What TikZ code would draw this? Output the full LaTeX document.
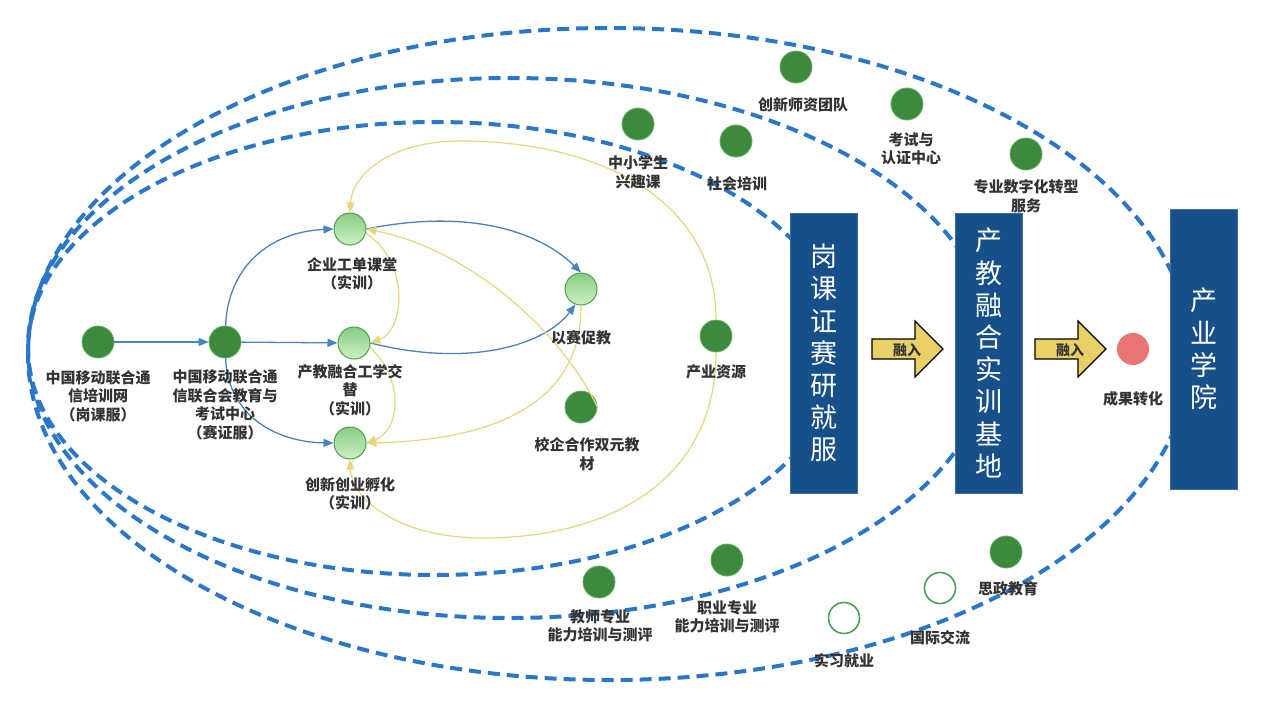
\documentclass[tikz,border=0pt]{standalone}
\usepackage{fontspec}
\newfontfamily\cjk[RawFeature=+halt]{Noto Sans CJK SC}
\usetikzlibrary{arrows.meta}
\definecolor{dgreen}{HTML}{3D8A3D}
\definecolor{dgreenrim}{HTML}{62B062}
\definecolor{lgtop}{HTML}{86CE80}
\definecolor{lgbot}{HTML}{CDEFC6}
\definecolor{lgrim}{HTML}{4E9E4E}
\definecolor{hrim}{HTML}{4E9F4E}
\definecolor{blueln}{HTML}{4683C3}
\definecolor{yelln}{HTML}{E9D47C}
\definecolor{ringblue}{HTML}{2A77C9}
\definecolor{boxblue}{HTML}{174F8A}
\definecolor{boxrim}{HTML}{3C6EA8}
\definecolor{arrowyel}{HTML}{E8D066}
\definecolor{txtgray}{HTML}{333333}
\definecolor{redc}{HTML}{E97474}
\begin{document}
\begin{tikzpicture}[x=1pt,y=-1pt,
  lbl/.style={font=\cjk\bfseries\fontsize{15}{18.5}\selectfont, text=txtgray, align=center, inner sep=0pt},
  dnode/.style={circle, fill=dgreen, draw=dgreenrim, line width=0.8pt, minimum size=32pt, inner sep=0pt},
  lnode/.style={circle, top color=lgtop, bottom color=lgbot, draw=lgrim, line width=1pt, minimum size=32pt, inner sep=0pt},
  hnode/.style={circle, draw=hrim, line width=1.6pt, fill=white, minimum size=31pt, inner sep=0pt},
  rnode/.style={circle, fill=redc, minimum size=32pt, inner sep=0pt},
  bluel/.style={draw=blueln, line width=1.3pt, -{Triangle[length=10pt,width=8pt]}},
  yell/.style={draw=yelln, line width=1.2pt, -{Triangle[length=10pt,width=8pt]}},
  ring/.style={draw=ringblue, line width=4pt, dash pattern=on 12pt off 7pt},
  bigbox/.style={fill=boxblue, draw=boxrim, line width=0.8pt, minimum width=67pt, minimum height=280pt, inner sep=0pt, text=white, align=center, font=\cjk\fontsize{27}{32.2}\selectfont},
  blockarr/.style={fill=arrowyel, draw=black, line width=1.2pt, line join=miter},
  arrtxt/.style={font=\cjk\bfseries\fontsize{14}{16}\selectfont, text=txtgray, inner sep=0pt}
]
\useasboundingbox (0,0) rectangle (1264,710);
\fill[white] (0,0) rectangle (1264,710);

% dashed rings
\draw[ring] (435,348.5) ellipse [x radius=407, y radius=226.5];
\draw[ring] (510,348) ellipse [x radius=482, y radius=270];
\draw[ring] (609,354) ellipse [x radius=581, y radius=326];

% big boxes
\node[bigbox] (b1) at (824,353) {岗\\课\\证\\赛\\研\\就\\服};
\node[bigbox] (b2) at (988.5,353) {产\\教\\融\\合\\实\\训\\基\\地};
\node[bigbox] (b3) at (1203.5,349) {产\\业\\学\\院};

% block arrows
\path[blockarr] (872,339) -- (915,339) -- (915,321) -- (943,349) -- (915,377) -- (915,359) -- (872,359) -- cycle;
\node[arrtxt] (r1) at (907,350) {融入};
\path[blockarr] (1035,339) -- (1078,339) -- (1078,321) -- (1106,349) -- (1078,377) -- (1078,359) -- (1035,359) -- cycle;
\node[arrtxt] (r2) at (1070,350) {融入};

% nodes
\node[dnode] (n1) at (98,342) {};
\node[dnode] (n2) at (225,342) {};
\node[lnode] (c1) at (350,229) {};
\node[lnode] (c2) at (354,343) {};
\node[lnode] (c3) at (350,443) {};
\node[lnode] (m) at (581,289) {};
\node[dnode] (xq) at (581,407) {};
\node[dnode] (ind) at (716,336) {};
\node[dnode] (zx) at (638,124) {};
\node[dnode] (sh) at (736,141) {};
\node[dnode] (cx) at (796,67) {};
\node[dnode] (ks) at (907,104) {};
\node[dnode] (zy) at (1026,154) {};
\node[dnode] (js) at (599,582) {};
\node[dnode] (zyz) at (727,560) {};
\node[hnode] (sx) at (844,618) {};
\node[hnode] (gj) at (940,588) {};
\node[dnode] (sz) at (1006,552) {};
\node[rnode] (cg) at (1133,349) {};

% blue connectors
\draw[bluel] (n1) -- (n2);
\draw[bluel] (n2.88) .. controls (228,268) and (268,232) .. (c1.west);
\draw[bluel] (n2) -- (c2);
\draw[bluel] (n2.272) .. controls (228,415) and (275,442) .. (c3.west);
\draw[bluel] (c1.east) .. controls (470,208) and (540,232) .. (m.north);
\draw[bluel] (c2.east) .. controls (470,368) and (545,345) .. (m.250);

% yellow connectors
\draw[yell] (ind.north) .. controls (716,200) and (600,141) .. (460,141) .. controls (390,141) and (352,175) .. (c1.north);
\draw[yell] (ind.south) .. controls (716,480) and (610,538) .. (483,538) .. controls (400,538) and (352,500) .. (c3.south);
\draw[yell] (xq.east) .. controls (560,330) and (470,250) .. (c1.east);
\draw[yell] (m.south) .. controls (582,400) and (500,440) .. (c3.east);
\draw[yell] (c1.-15) .. controls (410,262) and (405,330) .. (c2.east);
\draw[yell] (c2.-15) .. controls (405,380) and (400,430) .. (c3.east);

% labels
\node[lbl] (ln1) at (98,396) {中国移动联合通\\信培训网\\（岗课服）};
\node[lbl] (ln2) at (225,405) {中国移动联合通\\信联合会教育与\\考试中心\\（赛证服）};
\node[lbl] (lc1) at (352,274) {企业工单课堂\\（实训）};
\node[lbl] (lc2) at (350,390) {产教融合工学交\\替\\（实训）};
\node[lbl] (lc3) at (350,494) {创新创业孵化\\（实训）};
\node[lbl] (lm) at (581,338) {以赛促教};
\node[lbl] (lxq) at (587,454) {校企合作双元教\\材};
\node[lbl] (lind) at (716,372) {产业资源};
\node[lbl] (lzx) at (638,172) {中小学生\\兴趣课};
\node[lbl] (lsh) at (737,184) {社会培训};
\node[lbl] (lcx) at (803,105) {创新师资团队};
\node[lbl] (lks) at (911,149) {考试与\\认证中心};
\node[lbl] (lzy) at (1026,196) {专业数字化转型\\服务};
\node[lbl] (ljs) at (600,626) {教师专业\\能力培训与测评};
\node[lbl] (lzyz) at (727,617) {职业专业\\能力培训与测评};
\node[lbl] (lsx) at (844,661) {实习就业};
\node[lbl] (lgj) at (940,638) {国际交流};
\node[lbl] (lsz) at (1008,589) {思政教育};
\node[lbl] (lcg) at (1133,399) {成果转化};
\end{tikzpicture}
\end{document}
